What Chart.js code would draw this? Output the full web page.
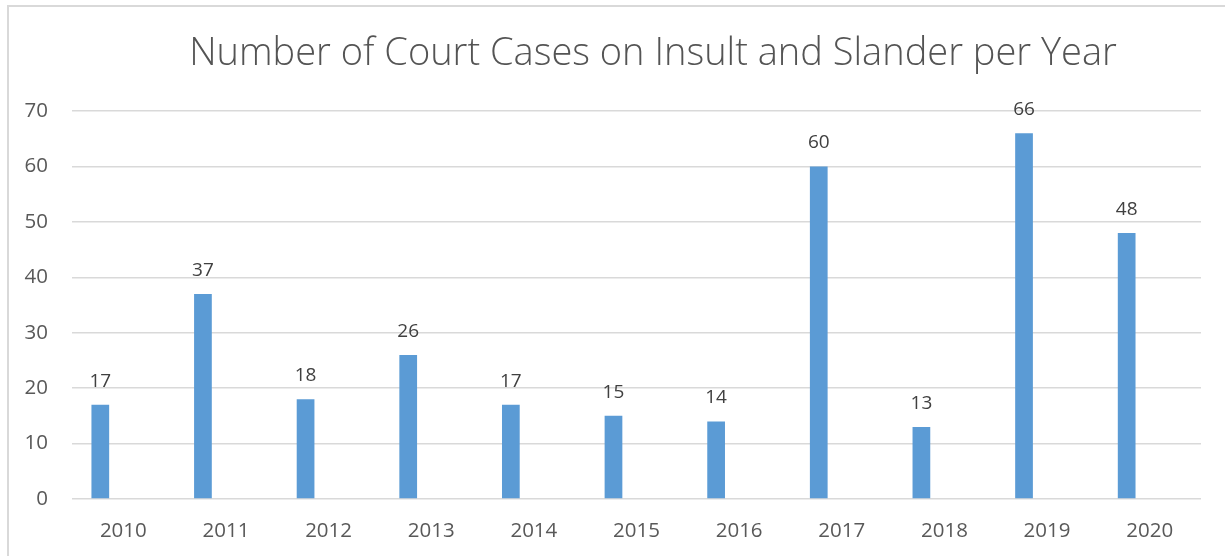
<!DOCTYPE html>
<html>
<head>
<meta charset="utf-8">
<script src="https://cdn.jsdelivr.net/npm/chart.js@4.4.1/dist/chart.umd.min.js"></script>
<style>
  html, body { margin: 0; padding: 0; background: #fff; overflow: hidden; }
  #wrap { width: 1225px; height: 556px; position: relative; }
</style>
</head>
<body>
<div id="wrap"><canvas id="chart" width="1225" height="556"></canvas></div>
<script>
const titleText = "Number of Court Cases on Insult and Slander per Year";
const years = ["2010", "2011", "2012", "2013", "2014", "2015", "2016", "2017", "2018", "2019", "2020"];
const cases = [17, 37, 18, 26, 17, 15, 14, 60, 13, 66, 48];
// Excel left an empty second series, which pushes each bar to the left of its label
const emptySeries = years.map(() => null);

const frameAndTitle = {
    id: "frameAndTitle",
    beforeDraw(chart) {
        const ctx = chart.ctx;
        ctx.save();
        ctx.strokeStyle = "#d9d9d9";
        ctx.lineWidth = 2;
        ctx.strokeRect(8, 6, 1400, 700);
        ctx.restore();
    },
    afterDraw(chart) {
        const ctx = chart.ctx;
        ctx.save();
        // Calibri Light is not available, so size Open Sans to the same line length
        ctx.font = "300 36px 'Open Sans'";
        const size = 36 * 927 / ctx.measureText(titleText).width;
        ctx.font = "300 " + size.toFixed(1) + "px 'Open Sans'";
        ctx.fillStyle = "#545454";
        ctx.textAlign = "center";
        ctx.textBaseline = "alphabetic";
        ctx.fillText(titleText, 653, 65);
        ctx.restore();
    },
};

const valueLabels = {
    id: "valueLabels",
    afterDatasetsDraw(chart) {
        const ctx = chart.ctx;
        const meta = chart.getDatasetMeta(0);
        ctx.save();
        ctx.font = "19px 'Open Sans'";
        ctx.fillStyle = "#404040";
        ctx.textAlign = "center";
        ctx.textBaseline = "alphabetic";
        meta.data.forEach((bar, i) => {
            ctx.fillText(String(cases[i]), bar.x, bar.y - 18);
        });
        ctx.restore();
    },
};

new Chart(document.getElementById("chart"), {
    type: "bar",
    data: {
        labels: years,
        datasets: [
            {
                label: "Cases",
                data: cases,
                backgroundColor: "#5b9bd5",
                categoryPercentage: 0.897,
                barPercentage: 0.385,
            },
            {
                label: "",
                data: emptySeries,
                backgroundColor: "#ed7d31",
                categoryPercentage: 0.897,
                barPercentage: 0.385,
            },
        ],
    },
    options: {
        responsive: false,
        animation: false,
        layout: { padding: { left: 0, right: 24, top: 111, bottom: 0 } },
        plugins: {
            legend: { display: false },
            title: { display: false },
            tooltip: { enabled: false },
        },
        scales: {
            x: {
                grid: { display: false },
                border: { display: false },
                ticks: {
                    color: "#595959",
                    font: { family: "'Open Sans'", size: 20.5 },
                    padding: 12,
                    maxRotation: 0,
                },
                afterFit: (scale) => { scale.height = 57; },
            },
            y: {
                min: 0,
                max: 70,
                grid: { color: "#d9d9d9", lineWidth: 1.5, drawTicks: false },
                border: { display: false },
                ticks: {
                    stepSize: 10,
                    color: "#595959",
                    font: { family: "'Open Sans'", size: 20.5 },
                    padding: 24,
                },
                afterFit: (scale) => { scale.width = 72; },
            },
        },
    },
    plugins: [frameAndTitle, valueLabels],
});
</script>
</body>
</html>
